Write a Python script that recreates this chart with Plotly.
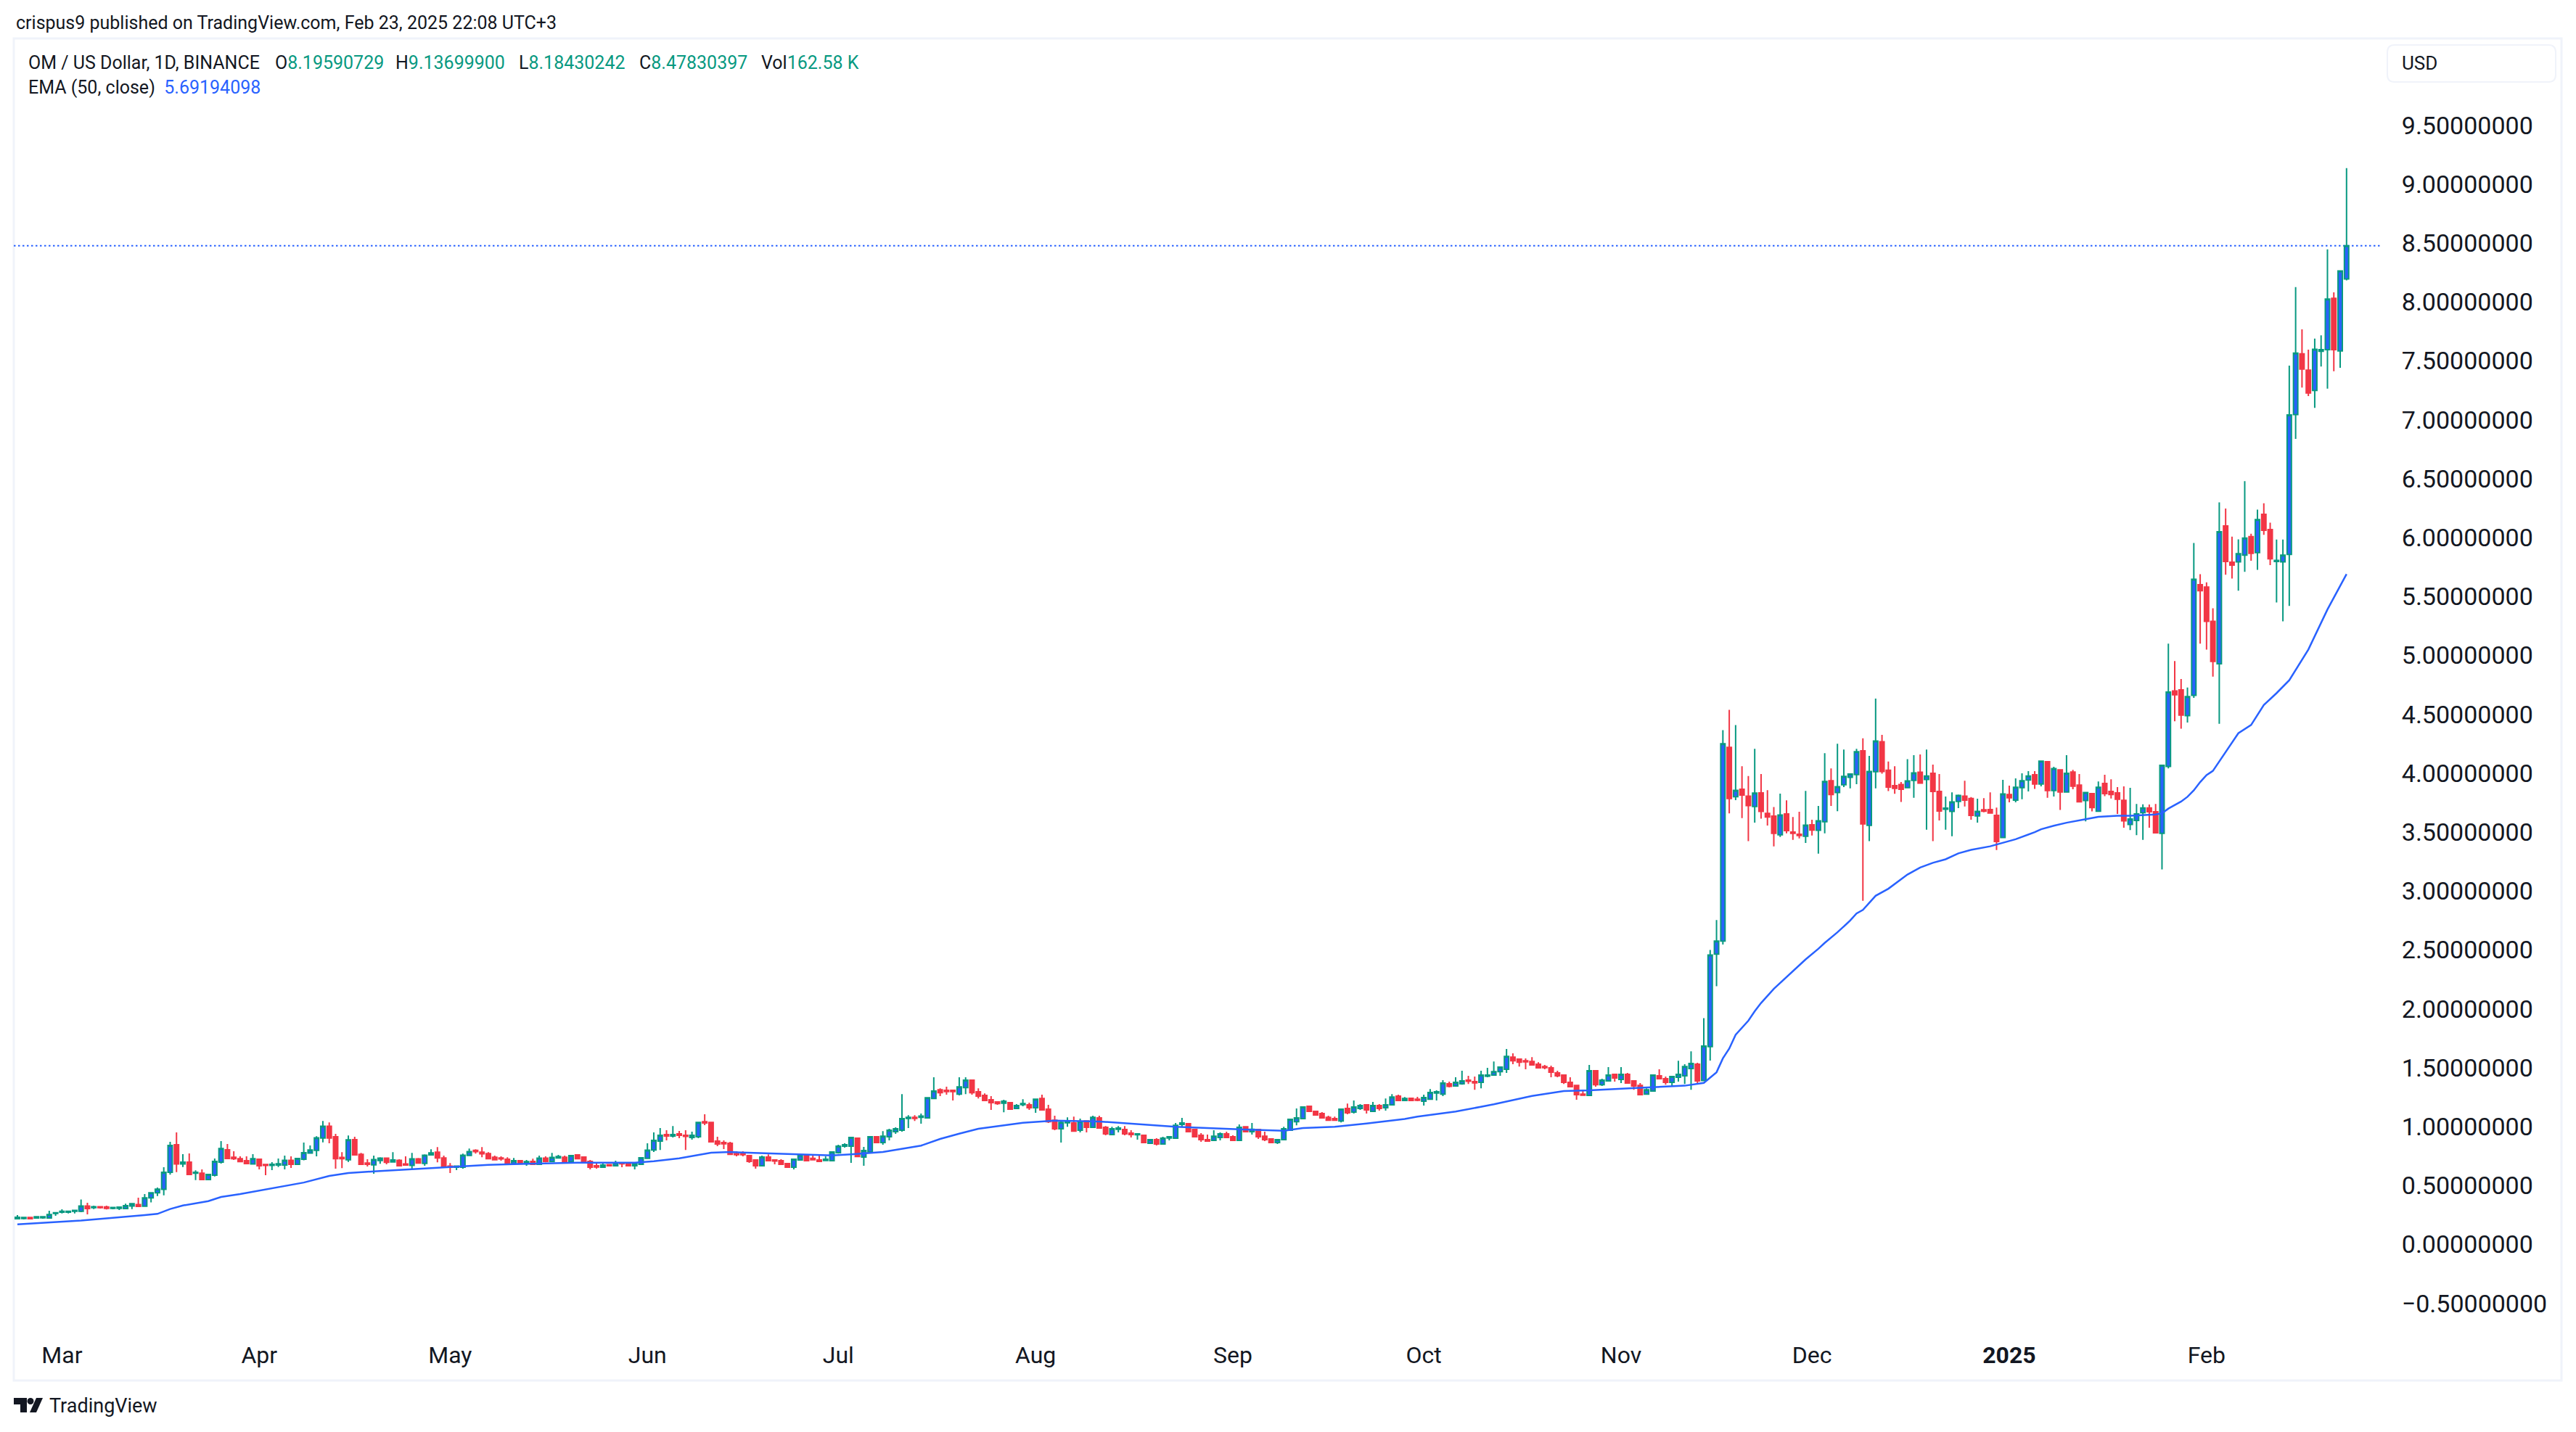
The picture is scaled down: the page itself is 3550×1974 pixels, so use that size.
import pandas as pd
import plotly.graph_objects as go

opens = [
 .219,.221,.229,.225,.227,.225,.264,.274,.274,.282,.282,.327,.313,.321,.319,.307,.307,.305,.327,.339,
 .325,.396,.439,.468,.613,.847,.683,.699,.605,.605,.551,.589,.699,.804,.740,.728,.711,.683,.724,.679,
 .671,.675,.675,.715,.681,.724,
 .776,.799,.904,1.004,.914,.739,.719,.890,.766,.692,.676,.713,.733,.701,.715,.684,.672,.727,.688,.760,.784,.735,.666,.656,.656,.756,.799,.784,.772,.741,.735,.723,.686,.711,.686,.705,.680,.733,.705,.735,.741,.705,.760,
 .742,.705,.668,.656,.678,.668,.693,.680,.668,.680,.732,.803,.878,.933,.921,.939,.927,.908,.914,1.043,1.037,.878,.865,.859,.772,.777,.754,.717,.668,.742,.717,.711,.687,.656,.717,.758,.732,.717,.713,.711,.779,.835,.835,
 .902,.742,.785,.914,.865,.914,.957,.970,1.070,1.080,1.080,1.074,1.240,1.314,1.308,1.308,1.277,1.332,1.395,1.296,1.265,1.228,1.210,1.199,1.204,1.155,1.187,1.185,1.161,1.240,1.148,1.055,.982,1.033,1.031,.970,1.049,.994,1.074,.994,.933,.978,.976,.945,
 .931,.927,.859,.890,.853,.904,.902,1.019,1.025,.976,.927,.890,.884,.908,.939,.914,.884,1.000,.957,.976,.920,.896,.865,.890,.970,1.043,1.068,1.173,1.130,1.112,1.080,1.068,1.049,1.155,1.124,1.155,1.185,1.130,1.179,1.161,1.185,1.260,1.222,
 1.241,1.234,1.216,1.234,1.286,1.277,1.364,1.345,1.364,1.395,1.383,1.376,1.428,1.438,1.468,1.487,1.591,1.573,1.560,1.554,1.530,1.511,1.499,1.456,1.438,1.376,1.351,1.277,1.265,1.475,1.357,1.389,1.444,1.401,1.444,1.389,1.351,1.277,1.302,1.432,1.407,1.376,1.419,1.432,1.493,1.530,1.392,
 1.679,2.464,2.575,4.220,3.801,3.864,3.805,3.718,3.834,3.659,3.636,3.478,3.654,3.501,3.482,3.466,3.563,3.516,3.588,3.937,3.836,3.902,3.966,3.989,4.190,3.558,4.013,4.267,4.025,3.895,3.904,3.878,3.940,4.008,3.947,3.999,3.845,3.694,3.676,3.761,3.805,3.786,3.638,3.690,3.692,3.643,3.454,3.819,3.772,3.878,3.942,3.987,3.909,4.098,3.853,4.029,3.841,4.010,3.900,3.768,3.827,3.678,3.914,3.845,3.834,3.770,3.565,3.600,3.666,3.706,3.673,3.490,4.058,4.699,4.708,4.489,4.661,5.60,5.58,5.29,4.93,6.099,5.791,5.795,5.851,6.008,5.873,6.197,6.068,5.797,5.794,5.857,7.045,7.560,7.422,7.249,7.582,7.595,8.031,7.585,8.196]

highs = [
 .250,.229,.229,.235,.235,.286,.270,.299,.282,.290,.382,.354,.329,.321,.329,.315,.317,.346,.346,.398,
 .428,.439,.483,.656,.872,.952,.767,.773,.630,.638,.595,.730,.878,.853,.791,.748,.748,.767,.724,.679,
 .699,.730,.754,.748,.734,.866,
 .840,.920,1.049,1.037,.939,.784,.926,.914,.778,.723,.754,.741,.733,.784,.723,.748,.778,.735,.766,.809,.827,.754,.692,.666,.772,.815,.809,.827,.784,.754,.748,.741,.735,.717,.717,.729,.754,.748,.778,.760,.754,.760,.766,
 .742,.717,.687,.687,.678,.711,.693,.693,.687,.742,.859,.951,.988,.970,1.006,.964,.970,.958,1.043,1.105,1.043,.914,.884,.872,.791,.791,.760,.717,.754,.766,.723,.723,.693,.723,.764,.764,.754,.754,.748,.791,.847,.859,.908,
 .908,.828,.914,.920,.963,.982,.994,1.277,1.098,1.098,1.112,1.246,1.419,1.326,1.339,1.308,1.419,1.419,1.395,1.326,1.283,1.259,1.216,1.228,1.210,1.191,1.234,1.204,1.234,1.271,1.185,1.093,1.055,1.080,1.086,1.068,1.049,1.093,1.093,1.006,1.000,1.006,1.006,.970,
 .939,.927,.896,.902,.914,.914,1.031,1.074,1.031,.976,.945,.933,.970,.951,.958,.927,1.019,1.006,1.031,.976,.958,.902,.896,1.000,1.068,1.155,1.173,1.179,1.136,1.124,1.093,1.086,1.148,1.197,1.222,1.191,1.185,1.210,1.191,1.240,1.277,1.271,1.252,
 1.247,1.253,1.271,1.320,1.308,1.395,1.383,1.419,1.475,1.432,1.426,1.475,1.499,1.554,1.505,1.659,1.622,1.579,1.579,1.591,1.548,1.524,1.518,1.475,1.438,1.419,1.351,1.314,1.524,1.475,1.407,1.505,1.444,1.505,1.456,1.389,1.370,1.326,1.444,1.487,1.426,1.432,1.560,1.530,1.640,1.542,1.922,
 2.500,2.754,4.366,4.538,4.409,4.060,3.977,4.208,3.994,3.857,3.713,3.827,3.770,3.629,3.673,3.850,3.605,3.723,4.171,4.041,4.251,4.201,3.994,4.208,4.296,4.147,4.633,4.326,4.100,4.060,3.926,4.119,4.154,4.159,4.201,4.074,3.994,3.803,3.838,3.819,3.937,3.798,3.784,3.789,3.838,3.709,3.944,3.895,3.956,3.999,4.018,4.018,4.102,4.098,4.055,4.029,4.154,4.029,3.994,3.836,3.827,3.930,3.987,3.949,3.883,3.888,3.876,3.739,3.737,3.735,3.739,4.067,5.10,4.953,4.800,4.727,5.955,5.69,5.62,5.40,6.30,6.247,6.008,5.986,6.479,6.033,6.237,6.291,6.127,5.983,5.983,7.46,8.126,7.768,7.595,7.689,7.717,8.446,8.082,8.264,9.137]

lows = [
 .217,.213,.213,.225,.219,.225,.243,.264,.264,.264,.274,.256,.301,.305,.297,.299,.292,.301,.301,.317,
 .325,.357,.412,.418,.593,.615,.658,.595,.547,.551,.547,.577,.687,.730,.718,.699,.687,.683,.638,.589,
 .632,.658,.638,.650,.675,.715,
 .776,.748,.867,.859,.643,.649,.701,.760,.674,.662,.600,.686,.680,.701,.668,.668,.637,.692,.668,.760,.698,.656,.607,.631,.643,.756,.772,.741,.729,.719,.711,.680,.680,.686,.668,.680,.674,.698,.705,.735,.705,.698,.729,
 .699,.638,.644,.656,.662,.668,.656,.668,.638,.674,.732,.785,.803,.884,.908,.902,.803,.890,.902,1.013,.872,.835,.810,.766,.748,.748,.693,.644,.668,.711,.680,.680,.656,.638,.711,.705,.719,.705,.713,.711,.772,.823,.693,
 .742,.668,.785,.865,.847,.884,.939,.957,.988,1.049,1.025,1.068,1.240,1.259,1.271,1.222,1.265,1.277,1.271,1.240,1.216,1.142,1.185,1.123,1.148,1.148,1.173,1.142,1.118,1.142,1.031,.970,.865,1.000,.963,.951,.951,.994,.988,.927,.933,.951,.927,.908,
 .890,.865,.859,.841,.847,.884,.902,1.000,.957,.914,.871,.878,.884,.884,.908,.878,.878,.951,.933,.896,.878,.865,.853,.890,.970,1.012,1.068,1.124,1.093,1.074,1.049,1.055,1.037,1.105,1.112,1.142,1.112,1.130,1.136,1.136,1.179,1.222,1.216,
 1.216,1.216,1.179,1.228,1.222,1.259,1.333,1.339,1.357,1.363,1.314,1.326,1.419,1.438,1.432,1.456,1.530,1.511,1.487,1.524,1.499,1.487,1.419,1.419,1.363,1.333,1.228,1.267,1.265,1.339,1.345,1.389,1.383,1.370,1.370,1.314,1.265,1.277,1.302,1.407,1.357,1.339,1.383,1.363,1.314,1.363,1.392,
 1.561,2.193,2.547,3.659,3.772,3.619,3.424,3.581,3.614,3.556,3.379,3.459,3.490,3.435,3.447,3.409,3.471,3.318,3.490,3.723,3.678,3.883,3.871,3.907,2.917,3.424,3.871,3.996,3.848,3.826,3.756,3.876,3.791,3.916,3.520,3.424,3.600,3.520,3.466,3.704,3.718,3.605,3.581,3.669,3.657,3.348,3.454,3.753,3.753,3.779,3.845,3.867,3.888,3.791,3.803,3.688,3.841,3.864,3.753,3.591,3.676,3.671,3.805,3.786,3.654,3.537,3.518,3.475,3.435,3.537,3.494,3.183,4.041,4.442,4.378,4.430,4.640,5.10,5.05,4.82,4.42,5.685,5.653,5.55,5.709,5.804,5.726,6.024,5.766,5.45,5.29,5.42,6.838,7.274,7.202,7.101,7.453,7.265,7.413,7.441,8.184]

closes = [
 .231,.229,.219,.235,.235,.254,.270,.282,.282,.290,.327,.305,.321,.313,.307,.315,.317,.329,.346,.323,
 .396,.439,.469,.613,.841,.683,.699,.595,.613,.551,.595,.705,.815,.730,.728,.703,.687,.728,.669,.671,
 .681,.685,.715,.681,.730,.779,
 .803,.906,1.004,.904,.729,.729,.888,.760,.680,.680,.721,.733,.698,.717,.668,.674,.727,.692,.758,.778,.735,.656,.656,.666,.758,.788,.788,.770,.729,.719,.727,.686,.711,.686,.703,.680,.733,.705,.739,.747,.705,.754,.729,
 .699,.656,.658,.674,.668,.693,.685,.668,.687,.736,.801,.884,.927,.921,.933,.927,.917,.927,1.037,1.031,.872,.853,.855,.766,.762,.762,.705,.668,.742,.711,.709,.680,.656,.723,.758,.711,.719,.705,.723,.785,.835,.847,.908,
 .747,.797,.914,.865,.920,.970,.982,1.068,1.080,1.070,1.090,1.246,1.302,1.289,1.298,1.298,1.338,1.395,1.289,1.259,1.222,1.204,1.197,1.216,1.148,1.179,1.197,1.161,1.234,1.142,1.043,.982,1.037,1.043,.963,1.043,.994,1.080,.988,.939,.982,.988,.939,.933,
 .939,.865,.890,.853,.902,.914,1.012,1.031,.957,.914,.890,.878,.920,.939,.908,.884,.994,.957,.978,.914,.890,.865,.890,.982,1.062,1.074,1.167,1.130,1.099,1.074,1.055,1.055,1.148,1.118,1.167,1.179,1.142,1.179,1.155,1.185,1.252,1.222,1.240,
 1.222,1.224,1.247,1.290,1.296,1.370,1.343,1.376,1.389,1.385,1.372,1.438,1.438,1.468,1.505,1.597,1.560,1.548,1.550,1.524,1.499,1.501,1.462,1.432,1.376,1.339,1.271,1.267,1.475,1.357,1.395,1.438,1.413,1.444,1.370,1.345,1.271,1.314,1.438,1.407,1.376,1.426,1.444,1.511,1.536,1.389,1.684,
 2.457,2.575,4.251,3.786,3.855,3.815,3.725,3.831,3.676,3.629,3.490,3.645,3.513,3.490,3.471,3.560,3.518,3.596,3.930,3.819,3.886,3.973,3.994,4.182,3.570,4.015,4.274,4.015,3.883,3.871,3.864,3.935,4.003,3.916,3.977,3.845,3.680,3.704,3.756,3.812,3.772,3.643,3.676,3.678,3.662,3.421,3.824,3.791,3.881,3.937,3.977,3.909,4.102,3.853,4.039,3.841,3.999,3.890,3.758,3.836,3.709,3.881,3.827,3.819,3.779,3.596,3.612,3.654,3.706,3.673,3.494,4.067,4.689,4.666,4.494,4.651,5.647,5.55,5.29,4.95,6.05,5.798,5.766,5.864,5.996,5.867,6.153,6.062,5.820,5.807,5.851,7.042,7.566,7.431,7.227,7.598,7.595,8.025,7.595,8.264,8.478]

assert len(opens) == len(highs) == len(lows) == len(closes) == 367, (len(opens), len(highs), len(lows), len(closes))

dates = pd.date_range("2024-02-23", periods=367, freq="D")

ema_days = [0,10,20,22,24,26,30,32,35,40,45,49,52,56,62,68,74,80,88,97,100,104,107,109,112,118,124,128,131,
            136,142,145,148,151,158,163,170,175,182,192,199,202,207,212,218,220,226,232,238,243,247,255,262,265,
            267,268,269,270,271,272,273,274,276,277,279,281,283,284,286,288,289,290,292,294,297,299,301,303,305,
            307,310,314,317,318,320,322,325,327,330,332,336,337,338,340,341,342,343,344,345,346,347,349,351,353,
            355,357,360,363,366]
ema_values = [.171,.204,.249,.260,.301,.331,.368,.403,.428,.479,.526,.582,.607,.621,.639,.658,.676,.685,.695,.695,
              .707,.732,.762,.779,.785,.773,.760,.756,.765,.785,.839,.896,.941,.982,1.033,1.052,1.044,1.027,1.000,
              .978,.966,.988,.999,1.027,1.066,1.085,1.128,1.19,1.261,1.302,1.308,1.331,1.348,1.372,1.462,1.58,1.663,
              1.78,1.84,1.90,1.98,2.05,2.17,2.22,2.32,2.42,2.51,2.56,2.65,2.75,2.81,2.84,2.96,3.02,3.14,3.20,3.24,
              3.27,3.32,3.35,3.38,3.44,3.50,3.525,3.555,3.58,3.61,3.63,3.64,3.64,3.65,3.66,3.70,3.76,3.80,3.855,
              3.925,3.985,4.02,4.10,4.18,4.34,4.41,4.58,4.68,4.79,5.05,5.39,5.69]

price_ticks = [-0.5,0,0.5,1,1.5,2,2.5,3,3.5,4,4.5,5,5.5,6,6.5,7,7.5,8,8.5,9,9.5]
price_labels = ["−0.50000000","0.00000000","0.50000000","1.00000000","1.50000000","2.00000000","2.50000000",
                "3.00000000","3.50000000","4.00000000","4.50000000","5.00000000","5.50000000","6.00000000",
                "6.50000000","7.00000000","7.50000000","8.00000000","8.50000000","9.00000000","9.50000000"]
month_ticks = ["2024-03-01","2024-04-01","2024-05-01","2024-06-01","2024-07-01","2024-08-01","2024-09-01",
               "2024-10-01","2024-11-01","2024-12-01","2025-01-01","2025-02-01"]
month_labels = ["Mar","Apr","May","Jun","Jul","Aug","Sep","Oct","Nov","Dec","<b>2025</b>","Feb"]

PAGE = 8  # the page's own body margin
W, H = 3550 - PAGE, 1974 - PAGE
L, R, T, B = 19, 3280, 53, 1825
INK, GREEN, RED, BLUE, EDGE = "#131722", "#089981", "#f23645", "#2962ff", "#f0f3fa"
FONT = "Roboto"

def px(x):
    return (x - L) / (R - L)

def py(y):
    return 1 - (y - T) / (B - T)

def note(x, y, text, size=25, color=INK, family=FONT):
    return dict(x=px(x), y=py(y), xref="paper", yref="paper", text=text, showarrow=False,
                xanchor="left", yanchor="middle", align="left",
                font=dict(family=family, size=size, color=color))

def path(points, close=True):
    s = "M" + " L".join(f"{px(a):.6f},{py(b):.6f}" for a, b in points)
    return s + (" Z" if close else "")

def rounded(x0, y0, x1, y1, r):
    a, b, c, d = px(x0), py(y0), px(x1), py(y1)
    rx, ry = r / (R - L), r / (B - T)
    return (f"M{a+rx:.6f},{b:.6f} L{c-rx:.6f},{b:.6f} Q{c:.6f},{b:.6f} {c:.6f},{b-ry:.6f} "
            f"L{c:.6f},{d+ry:.6f} Q{c:.6f},{d:.6f} {c-rx:.6f},{d:.6f} L{a+rx:.6f},{d:.6f} "
            f"Q{a:.6f},{d:.6f} {a:.6f},{d+ry:.6f} L{a:.6f},{b-ry:.6f} Q{a:.6f},{b:.6f} {a+rx:.6f},{b:.6f} Z")

fig = go.Figure()
fig.add_trace(go.Candlestick(
    x=dates, open=opens, high=highs, low=lows, close=closes, whiskerwidth=0,
    increasing=dict(line=dict(color=GREEN, width=2), fillcolor=BLUE),
    decreasing=dict(line=dict(color=RED, width=2), fillcolor=RED)))
fig.add_trace(go.Scatter(x=[dates[i] for i in ema_days], y=ema_values, mode="lines",
                         line=dict(color=BLUE, width=2.5), hoverinfo="skip"))

shapes = [
    dict(type="rect", xref="paper", yref="paper", x0=px(19), x1=px(3530), y0=py(53), y1=py(1903),
         line=dict(color=EDGE, width=3), layer="below"),
    dict(type="line", xref="paper", yref="y", x0=0, x1=1, y0=closes[-1], y1=closes[-1],
         line=dict(color=BLUE, width=2, dash="2.5px,3.5px"), layer="below"),
    dict(type="path", xref="paper", yref="paper", path=rounded(3290, 62, 3522, 113, 10),
         line=dict(color=EDGE, width=2), fillcolor="white"),
    dict(type="path", xref="paper", yref="paper",
         path=path([(19,1927),(37,1927),(37,1947),(28,1947),(28,1936),(19,1936)]),
         line=dict(width=0), fillcolor=INK),
    dict(type="circle", xref="paper", yref="paper", x0=px(37.5), x1=px(46.5), y0=py(1936), y1=py(1927),
         line=dict(width=0), fillcolor=INK),
    dict(type="path", xref="paper", yref="paper",
         path=path([(50,1927),(59,1927),(50,1947),(41,1947)]),
         line=dict(width=0), fillcolor=INK),
]

annotations = [
    note(20, 32, "crispus9 published on TradingView.com, Feb 23, 2025 22:08 UTC+3"),
    note(37, 86, "OM / US Dollar, 1D, BINANCE"),
    note(377, 86, f"O<span style='color:{GREEN}'>8.19590729</span>"),
    note(543, 86, f"H<span style='color:{GREEN}'>9.13699900</span>"),
    note(713, 86, f"L<span style='color:{GREEN}'>8.18430242</span>"),
    note(879, 86, f"C<span style='color:{GREEN}'>8.47830397</span>"),
    note(1047, 86, f"Vol<span style='color:{GREEN}'>162.58 K</span>"),
    note(37, 121, f"EMA (50, close)  <span style='color:{BLUE}'>5.69194098</span>"),
    note(3308, 87, "USD", size=26),
    note(66, 1938, "TradingView", size=27),
]

fig.update_layout(
    width=W, height=H, margin=dict(l=L - PAGE, r=W + PAGE - R, t=T - PAGE, b=H + PAGE - B), autosize=False,
    paper_bgcolor="white", plot_bgcolor="white", showlegend=False, boxgap=0.32, boxgroupgap=0,
    shapes=shapes, annotations=annotations, font=dict(family=FONT, color=INK),
    xaxis=dict(range=["2024-02-22 10:20", "2025-02-28 06:28"], rangeslider=dict(visible=False),
               showgrid=False, zeroline=False, showline=False, automargin=False,
               tickmode="array", tickvals=month_ticks, ticktext=month_labels, tickangle=0,
               ticks="outside", ticklen=15, tickcolor="rgba(0,0,0,0)", tickfont=dict(size=32, family=FONT, color=INK)),
    yaxis=dict(range=[-0.674, 10.237], side="right", showgrid=False, zeroline=False, showline=False,
               automargin=False, tickmode="array", tickvals=price_ticks, ticktext=price_labels,
               ticks="outside", ticklen=22, tickcolor="rgba(0,0,0,0)", tickfont=dict(size=34, family=FONT, color=INK)),
)
fig.write_html("out.html")
